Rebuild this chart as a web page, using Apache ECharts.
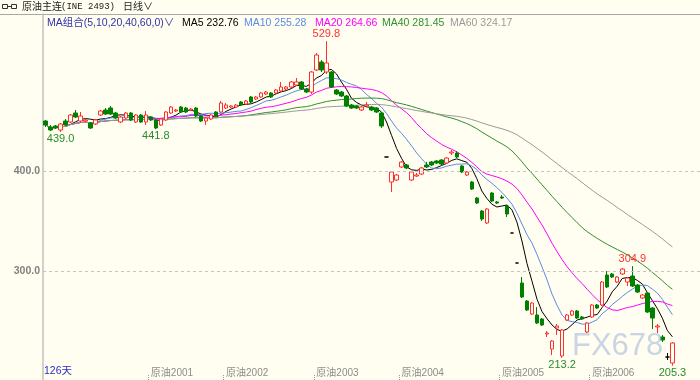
<!DOCTYPE html>
<html><head><meta charset="utf-8">
<script src="https://cdn.jsdelivr.net/npm/echarts@6/dist/echarts.min.js"></script>
<style>html,body{margin:0;padding:0;background:#fffef0}#c{width:700px;height:380px}</style>
</head><body><div id="c"></div>
<script>
// ---------- data ----------
const slotCount = 131; // category slots on the x axis (126 trading days + empty right margin)
// candles: [open, close, low, high]
const ohlc = [
[450,446,444,451],[444,441,440,446],[445,443,442,446],[441,447,439.0,448],[450,446,445,452],
[449,456,448,457],[458,454,453,461],[450,455,448,459],[450,451,449,452],[448,443,442,449],
[447,451,446,452],[456,460,455,461],[461,457,456,463],[463,457,456,465],[458,453,452,459],
[449,454,448,455],[453,458,452,459],[458,451,450,459],[449,456,448,457],[456,449,448,457],
[449,456,446,460],[454,451,450,455],[451,443,441.8,452],[446,452,445,453],[451,459,450,460],
[458,464,457,465],[460,461,459,462],[464,459,458,465],[463,459,458,464],[461,462,460,463],
[463,455,454,464],[455,450,449,456],[450,453,446,454],[452,456,451,457],[459,455,454,460],
[459,468,458,470],[463,466,462,468],[464,465,463,466],[464,466,463,467],[469,466,465,470],
[467,470,466,471],[474,469,468,475],[472,474,471,475],[474,478,473,479],[477,479,476,480],
[478,474,473,479],[478,481,477,482],[480,484,479,489],[482,484,481,485],[484,489,483,490],
[486,489,485,493],[489,482,481,490],[482,479,478,483],[479,499,477,500],[501,516,500,518],
[509,501,499,511],[499,508,497,529.8],[499,484,483,500],[481,477,476,482],[479,475,474,480],
[475,465,464,476],[466,463,462,467],[465,463,462,466],[461,464,460,465],[465,466,464,469],
[464,461,460,465],[463,459,458,464],[458,445,443,459],[414,414,414,414],[389,399,379,400],
[391,396,390,397],[404,409,403,410],[406,403,402,407],[391,399,390,400],[395,396,394,398],
[397,403,396,404],[406,404,403,409],[409,406,405,410],[410,408,407,411],[411,407,406,412],
[408,413,407,414],[418,419,416,421],[418,414,413,420],[405,399,398,406],[396,399,395,400],
[389,382,381,390],[373,368,367,374],[360,352,350,361],[348,362,347,363],[378,370,369,379],
[369,368,367,370],[374,373,372,376],[365,357,354,366],[338,338,338,338],[308,308,308,308],
[288,274,273,294],[270,261,260,271],[257,268,256,269],[256,248,247,264],[252,246,245,253],
[237,238,234,240],[222,230,216,231],[243,245,236,247],[215,241,213.2,242],[251,256,250,257],
[256,260,255,261],[260,253,252,261],[254,252,251,255],[239,248,238,249],[254,266,253,267],
[266,263,262,267],[266,289,265,290],[296,284,283,300],[297,294,293,298],[289,294,288,295],
[297,302,296,303],[289,293,285,294],[295,285,284,304.9],[286,279,278,287],[273,276,272,277],
[278,259,258,279],[263,253,242,264],[244,245,238,247],[234,231,229,236],[214,214,211,218],
[208,228,205.3,229]
];
const dojiIdx = [68, 93, 94, 124];
const xLabels = {21:'原油2001', 36:'原油2002', 54:'原油2003', 71:'原油2004', 91:'原油2005', 109:'原油2006'};
const yTicks = [300, 400];
const extremes = [
  {i:56, v:529.8, kind:'high'}, {i:117, v:304.9, kind:'high'},
  {i:3, v:439.0, kind:'low'}, {i:22, v:441.8, kind:'low'},
  {i:103, v:213.2, kind:'low'}, {i:125, v:205.3, kind:'low'}
];
const maPeriods = [5, 10, 20, 40, 60];
const maLegendValues = ['232.76', '255.28', '264.66', '281.45', '324.17'];
const maColors = ['#000000', '#5b8ae6', '#ff00ff', '#2f8f2f', '#9a9a9a'];
const titleText = '原油主连';
const titleCode = '(INE 2493)';
const periodText = '日线∨';
const maGroupText = 'MA组合(5,10,20,40,60,0)∨';
const dayCountText = '126天';

// ---------- build ----------
const categories = Array.from({length: slotCount}, (_, i) => String(i + 1));
const closes = ohlc.map(d => d[1]);
function movingAverage(n) {
  return closes.map((_, i) => {
    const s = Math.max(0, i - n + 1);
    let sum = 0;
    for (let k = s; k <= i; k++) sum += closes[k];
    return +(sum / (i - s + 1)).toFixed(2);
  });
}
const candleData = ohlc.map((d, i) => dojiIdx.includes(i)
  ? {value: d, itemStyle: {color: '#000', color0: '#000', borderColor: '#000', borderColor0: '#000'}}
  : d);

const FONT = '"Liberation Sans", "Noto Sans CJK SC", sans-serif';
const labelIdx = Object.keys(xLabels).map(Number);
const upRed = '#ff3030', downGreen = '#008000', lowGreen = '#2a8c2a';

const maSeries = maPeriods.map((n, k) => ({
  name: 'MA' + n, type: 'line', data: movingAverage(n), symbol: 'none', smooth: false,
  lineStyle: {width: 1, color: maColors[k]}, itemStyle: {color: maColors[k]}, z: 2, silent: true
}));

const legendX = [182, 244, 315, 382, 450];
const graphics = [
  {type: 'line', shape: {x1: 0, y1: 14.5, x2: 700, y2: 14.5}, style: {stroke: '#a8a8a8', lineWidth: 1}},
  {type: 'rect', shape: {x: 2.5, y: 4.5, width: 5, height: 4}, style: {stroke: '#333', fill: 'none', lineWidth: 1}},
  {type: 'rect', shape: {x: 11.5, y: 4.5, width: 5, height: 4}, style: {stroke: '#333', fill: 'none', lineWidth: 1}},
  {type: 'line', shape: {x1: 7.5, y1: 6.5, x2: 11.5, y2: 6.5}, style: {stroke: '#333', lineWidth: 1}},
  {type: 'text', x: 22, y: 7, style: {text: titleText, fill: '#222', font: '10px ' + FONT, textVerticalAlign: 'middle'}},
  {type: 'text', x: 61, y: 7, style: {text: titleCode, fill: '#222', font: '9px "Liberation Mono", monospace', textVerticalAlign: 'middle'}},
  {type: 'text', x: 123, y: 7, style: {text: periodText, fill: '#222', font: '10px ' + FONT, textVerticalAlign: 'middle'}},
  {type: 'text', x: 47, y: 23, style: {text: maGroupText, fill: '#3333aa', font: '10.5px ' + FONT, textVerticalAlign: 'middle'}},
  {type: 'text', x: 44, y: 371, style: {text: dayCountText, fill: '#2a2acc', font: '10.5px ' + FONT, textVerticalAlign: 'middle'}},
  {type: 'text', x: 572, y: 346, z: 100, style: {text: 'FX678', fill: 'rgba(165,185,220,0.6)', font: '31px "Liberation Sans", sans-serif', textVerticalAlign: 'middle'}}
];
maPeriods.forEach((n, k) => graphics.push({
  type: 'text', x: legendX[k], y: 23,
  style: {text: 'MA' + n + ' ' + maLegendValues[k], fill: maColors[k], font: '10.5px ' + FONT, textVerticalAlign: 'middle'}
}));

const chart = echarts.init(document.getElementById('c'), null, {renderer: 'canvas'});
chart.setOption({
  animation: false,
  backgroundColor: '#fffef0',
  grid: {left: 43, right: 0, top: 14, bottom: 0, containLabel: false},
  xAxis: {
    type: 'category', data: categories, boundaryGap: true,
    axisLine: {show: false},
    axisTick: {show: true, inside: true, length: 6, interval: (i) => labelIdx.includes(i),
      lineStyle: {color: '#999', type: 'dotted'}},
    axisLabel: {show: true, inside: true, margin: 2, interval: (i) => labelIdx.includes(i),
      formatter: (v, i) => xLabels[i] || '', color: '#8c8c8c', fontSize: 10, fontFamily: FONT, align: 'left'},
    splitLine: {show: false}
  },
  yAxis: {
    type: 'value', min: 191, max: 557, scale: true,
    axisLine: {show: true, lineStyle: {color: '#c0c0c0', width: 1.5}},
    axisTick: {show: false}, axisLabel: {show: false}, splitLine: {show: false}
  },
  graphic: graphics,
  series: [
    ...maSeries,
    {
      name: 'K', type: 'candlestick', data: candleData, barWidth: 4, z: 3,
      itemStyle: {color: '#fffef0', color0: downGreen, borderColor: upRed, borderColor0: downGreen, borderWidth: 1},
      markLine: {
        silent: true, symbol: 'none', animation: false,
        lineStyle: {type: [3, 3], color: '#c4c4c4', width: 1},
        label: {position: 'start', formatter: (p) => p.value.toFixed(1), color: '#808080',
          fontWeight: 'bold', fontSize: 10.5, fontFamily: FONT, distance: 3},
        data: yTicks.map(v => ({yAxis: v}))
      },
      markPoint: {
        silent: true, symbol: 'circle', symbolSize: 1, itemStyle: {color: 'rgba(0,0,0,0)'},
        data: extremes.map(e => ({
          coord: [e.i, e.v], value: e.v,
          label: {show: true, position: e.kind === 'high' ? 'top' : 'bottom', distance: 1,
            formatter: e.v.toFixed(1), color: e.kind === 'high' ? upRed : lowGreen,
            fontSize: 11, fontFamily: FONT}
        }))
      }
    }
  ]
});
</script></body></html>
